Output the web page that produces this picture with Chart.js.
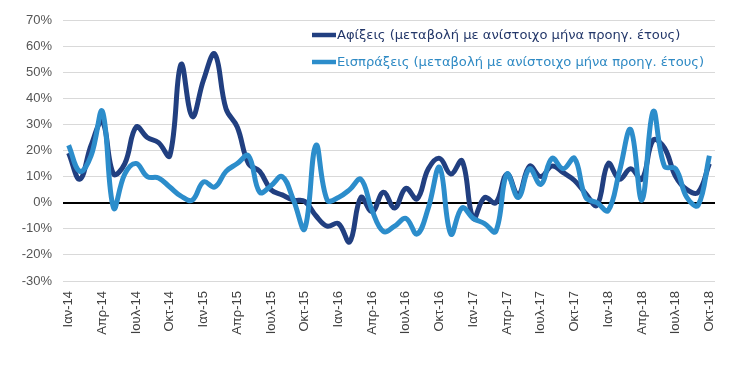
<!DOCTYPE html>
<html lang="el">
<head>
<meta charset="utf-8">
<title>Αφίξεις και Εισπράξεις</title>
<script src="https://cdn.jsdelivr.net/npm/chart.js@4.4.1/dist/chart.umd.min.js"></script>
<style>
  html, body { margin: 0; padding: 0; background: #ffffff; }
  #wrap { position: relative; width: 747px; height: 370px; }
</style>
</head>
<body>
<div id="wrap"><canvas id="myLineChart"></canvas></div>
<script>
// κατηγορίες (μήνες Ιαν-14 ... Οκτ-18)
const months = [
  "Ιαν-14", "Φεβ-14", "Μαρ-14", "Απρ-14", "Μαϊ-14", "Ιουν-14", "Ιουλ-14", "Αυγ-14", "Σεπ-14", "Οκτ-14", "Νοε-14", "Δεκ-14",
  "Ιαν-15", "Φεβ-15", "Μαρ-15", "Απρ-15", "Μαϊ-15", "Ιουν-15", "Ιουλ-15", "Αυγ-15", "Σεπ-15", "Οκτ-15", "Νοε-15", "Δεκ-15",
  "Ιαν-16", "Φεβ-16", "Μαρ-16", "Απρ-16", "Μαϊ-16", "Ιουν-16", "Ιουλ-16", "Αυγ-16", "Σεπ-16", "Οκτ-16", "Νοε-16", "Δεκ-16",
  "Ιαν-17", "Φεβ-17", "Μαρ-17", "Απρ-17", "Μαϊ-17", "Ιουν-17", "Ιουλ-17", "Αυγ-17", "Σεπ-17", "Οκτ-17", "Νοε-17", "Δεκ-17",
  "Ιαν-18", "Φεβ-18", "Μαρ-18", "Απρ-18", "Μαϊ-18", "Ιουν-18", "Ιουλ-18", "Αυγ-18", "Σεπ-18", "Οκτ-18"
];

// Αφίξεις, % μεταβολή
const afixeis = [
  19, 9, 22, 31, 11, 15, 29, 25, 23, 18, 53, 33,
  47, 57, 36, 29, 15, 12, 5, 3, 1, 0.5, -5, -9,
  -8, -15, 2, -3.5, 4, -2, 5.5, 1.5, 13, 17, 11, 16,
  -6, 2, 0, 11, 3, 14, 10, 14, 11.5, 8.5, 3.5, -1,
  15, 9, 13, 9, 24, 21, 10, 5, 4, 15
];

// Εισπράξεις, % μεταβολή
const eispraxeis = [
  22, 12, 18, 35, -2, 11, 15, 10, 9.5, 6, 2.5, 1,
  8, 6, 12, 15, 18, 4, 6.5, 10, 1, -10, 22, 1,
  2, 5, 9, -3, -11, -9, -6, -12, -2, 13.5, -12, -2,
  -6, -8, -11, 11, 2, 13, 7, 17, 13, 17, 2, 0,
  -3, 12, 28, 1, 35, 14, 13, 2, -1, 18
];

// άξονας y
const yTicks = [-30, -20, -10, 0, 10, 20, 30, 40, 50, 60, 70];

const seriesNames = [
  "Αφίξεις (μεταβολή με ανίστοιχο μήνα προηγ. έτους)",
  "Εισπράξεις (μεταβολή με ανίστοιχο μήνα προηγ. έτους)"
];
const lineColors = ["#213F80", "#2C8DCB"];
const textColors = ["#24386A", "#2F8AC4"];

// legend μέσα στο γράφημα, πάνω δεξιά
const insideLegend = {
  id: "insideLegend",
  afterDraw(chart) {
    const c = chart.ctx;
    c.save();
    c.font = "13.1px 'DejaVu Sans', Verdana, sans-serif";
    c.textBaseline = "middle";
    c.textAlign = "left";
    seriesNames.forEach((name, i) => {
      const y = 35 + i * 27;
      c.beginPath();
      c.strokeStyle = lineColors[i];
      c.lineWidth = 4.5;
      c.lineCap = "butt";
      c.moveTo(312, y);
      c.lineTo(336, y);
      c.stroke();
      c.fillStyle = textColors[i];
      c.fillText(name, 337, y + 1);
    });
    c.restore();
  }
};

document.addEventListener("DOMContentLoaded", function () {
  const ctx = document.getElementById("myLineChart").getContext("2d");
  new Chart(ctx, {
    type: "line",
    data: {
      labels: months,
      datasets: [
        {
          label: seriesNames[0],
          data: afixeis,
          borderColor: lineColors[0],
          backgroundColor: lineColors[0],
          borderWidth: 5,
          pointRadius: 0,
          tension: 0.4,
          order: 1
        },
        {
          label: seriesNames[1],
          data: eispraxeis,
          borderColor: lineColors[1],
          backgroundColor: lineColors[1],
          borderWidth: 5,
          pointRadius: 0,
          tension: 0.4,
          order: 0
        }
      ]
    },
    options: {
      responsive: true,
      maintainAspectRatio: false,
      animation: false,
      layout: { padding: { top: 20, right: 32, left: 0, bottom: 0 } },
      plugins: {
        legend: { display: false },
        tooltip: { enabled: false }
      },
      scales: {
        x: {
          offset: true,
          grid: { display: false },
          border: { display: false },
          ticks: {
            autoSkip: false,
            minRotation: 90,
            maxRotation: 90,
            padding: 2,
            color: "#404040",
            font: { family: "'Liberation Sans', Arial, sans-serif", size: 13 },
            callback: function (value, index) {
              return index % 3 === 0 ? months[index] : "";
            }
          },
          afterFit: function (scale) { scale.height = 89; }
        },
        y: {
          min: yTicks[0],
          max: yTicks[yTicks.length - 1],
          afterBuildTicks: function (scale) {
            scale.ticks = yTicks.map((v) => ({ value: v }));
          },
          border: { display: false },
          grid: {
            drawTicks: false,
            color: (c) => (c.tick && c.tick.value === 0 ? "#000000" : "#D9D9D9"),
            lineWidth: (c) => (c.tick && c.tick.value === 0 ? 2 : 1)
          },
          ticks: {
            padding: 11,
            color: "#555555",
            font: { family: "'Liberation Sans', Arial, sans-serif", size: 13 },
            callback: (v) => v + "%"
          },
          afterFit: function (scale) { scale.width = 63; }
        }
      }
    },
    plugins: [insideLegend]
  });
});
</script>
</body>
</html>
